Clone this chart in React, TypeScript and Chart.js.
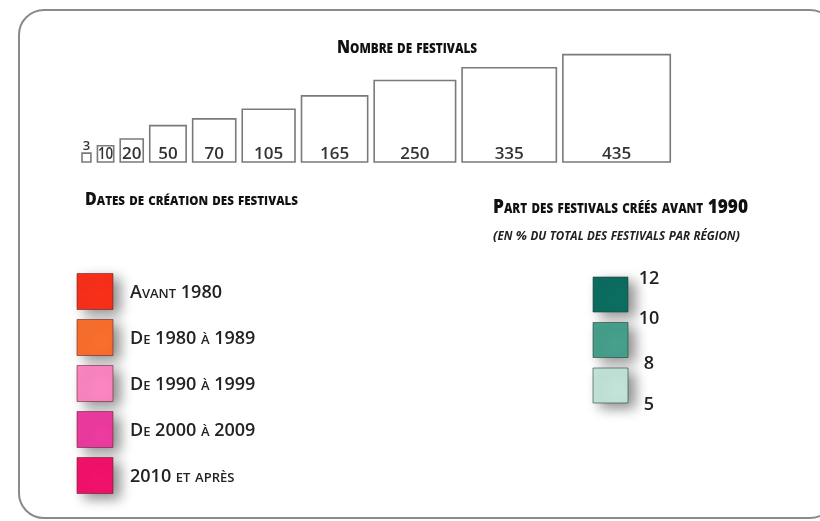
import React, { useEffect, useRef } from "react";
import { Chart, registerables } from "chart.js";

Chart.register(...registerables);

// ---- data ----
const festivalCounts = [3, 10, 20, 50, 70, 105, 165, 250, 335, 435];
const countTitle = "Nombre de festivals";

const periodTitle = "Dates de création des festivals";
const periodLabels = ["Avant 1980", "De 1980 à 1989", "De 1990 à 1999", "De 2000 à 2009", "2010 et après"];
const periodColors = ["#f8301a", "#f86e2c", "#fa85c1", "#ec3a9f", "#f1126b"];

const shareTitle = "Part des festivals créés avant 1990";
const shareSubtitle = "(en % du total des festivals par région)";
const shareBreaks = [12, 10, 8, 5];
const shareColors = ["#0c6d61", "#46a08b", "#c2e3d8"];

// ---- layout ----
const W = 820;
const H = 521;
const SQ_K = 5.15;
const SQ_GAP = 6.5;
const SQ_LEFT = 82;
const SQ_BASE = 162;
const LEG_X = 95;
const LEG_Y0 = 291.5;
const LEG_STEP = 46;
const LEG_SIDE = 36;
const SH_X = 610.5;
const SH_Y0 = 294.5;
const SH_STEP = 45.5;
const SH_SIDE = 35;
const FONT = "'Open Sans', 'Liberation Sans', sans-serif";

type CapsOpts = {
  big: number;
  small: number;
  weight: string;
  style?: string;
  color: string;
  align: "left" | "center";
  width?: number;
  sx?: number;
};

function drawCaps(ctx: CanvasRenderingContext2D, text: string, x: number, y: number, o: CapsOpts) {
  const runs: { t: string; size: number; w: number }[] = [];
  for (const ch of text) {
    const lower = ch !== ch.toUpperCase();
    const size = lower ? o.small : o.big;
    const c = lower ? ch.toUpperCase() : ch;
    const last = runs[runs.length - 1];
    if (last && last.size === size) last.t += c;
    else runs.push({ t: c, size, w: 0 });
  }
  const fontOf = (s: number) => `${o.style || "normal"} ${o.weight} ${s}px ${FONT}`;
  let total = 0;
  for (const r of runs) {
    ctx.font = fontOf(r.size);
    r.w = ctx.measureText(r.t).width;
    total += r.w;
  }
  const sx = o.width ? o.width / total : o.sx ?? 1;
  const start = o.align === "center" ? x - (total * sx) / 2 : x;
  ctx.save();
  ctx.translate(start, y);
  ctx.scale(sx, 1);
  ctx.fillStyle = o.color;
  ctx.textAlign = "left";
  ctx.textBaseline = "alphabetic";
  let cx = 0;
  for (const r of runs) {
    ctx.font = fontOf(r.size);
    ctx.fillText(r.t, cx, 0);
    cx += r.w;
  }
  ctx.restore();
}

// square positions derived from the counts (side proportional to sqrt)
const countSides = festivalCounts.map((v) => SQ_K * Math.sqrt(v));
const countPoints: { x: number; y: number }[] = [];
{
  let left = SQ_LEFT;
  countSides.forEach((s) => {
    countPoints.push({ x: left + s / 2, y: SQ_BASE - s / 2 });
    left += s + SQ_GAP;
  });
}

const shadowPlugin = {
  id: "squareShadow",
  beforeDatasetDraw(chart: any, args: any) {
    const ds = chart.data.datasets[args.index];
    if (!ds.shadow) return;
    const ctx = chart.ctx;
    ctx.save();
    ctx.shadowColor = "rgba(0,0,0,0.45)";
    ctx.shadowBlur = 13;
    ctx.shadowOffsetX = 7;
    ctx.shadowOffsetY = 5;
  },
  afterDatasetDraw(chart: any, args: any) {
    const ds = chart.data.datasets[args.index];
    if (!ds.shadow) return;
    chart.ctx.restore();
  },
};

const textPlugin = {
  id: "legendTexts",
  afterDatasetsDraw(chart: any) {
    const ctx: CanvasRenderingContext2D = chart.ctx;

    // titles
    drawCaps(ctx, countTitle, 407, 53, { big: 18, small: 13.5, weight: "800", color: "#111", align: "center", width: 140 });
    drawCaps(ctx, periodTitle, 85, 205, { big: 18, small: 13, weight: "800", color: "#111", align: "left", width: 213 });
    drawCaps(ctx, shareTitle, 493, 213, { big: 20, small: 13.5, weight: "800", color: "#111", align: "left", width: 255 });
    drawCaps(ctx, shareSubtitle, 493, 240, { big: 13, small: 11.5, weight: "bold", style: "italic", color: "#222", align: "left", width: 247 });

    // count labels
    const meta = chart.getDatasetMeta(0);
    meta.data.forEach((el: any, i: number) => {
      const side = countSides[i];
      const bottom = el.y + side / 2;
      const label = String(festivalCounts[i]);
      ctx.save();
      ctx.fillStyle = "#333";
      ctx.textAlign = "center";
      ctx.textBaseline = "alphabetic";
      if (side < 12) {
        ctx.font = `600 13px ${FONT}`;
        ctx.fillText(label, el.x, el.y - side / 2 - 3);
      } else {
        const fs = Math.min(17, side);
        ctx.font = `600 ${fs}px ${FONT}`;
        const w = ctx.measureText(label).width;
        const sx = Math.min(1, (side - 1) / w);
        ctx.translate(el.x, bottom - 3.5);
        ctx.scale(sx, 1);
        ctx.fillText(label, 0, 0);
      }
      ctx.restore();
    });

    // period labels
    const pm = chart.getDatasetMeta(1);
    pm.data.forEach((el: any, i: number) => {
      drawCaps(ctx, periodLabels[i], 130, el.y + 6.5, { big: 18, small: 13, weight: "600", color: "#222", align: "left" });
    });

    // share labels at class boundaries
    const sm = chart.getDatasetMeta(2);
    const els = sm.data;
    const half = SH_SIDE / 2;
    const bounds = [
      els[0].y - half,
      (els[0].y + half + els[1].y - half) / 2,
      (els[1].y + half + els[2].y - half) / 2,
      els[2].y + half,
    ];
    shareBreaks.forEach((b, i) => {
      ctx.save();
      ctx.font = `600 18px ${FONT}`;
      ctx.fillStyle = "#222";
      ctx.textAlign = "center";
      ctx.textBaseline = "alphabetic";
      ctx.fillText(String(b), els[0].x + 38.5, bounds[i] + 6.5);
      ctx.restore();
    });
  },
};

export default function App() {
  const ref = useRef<HTMLCanvasElement>(null);
  useEffect(() => {
    const chart = new Chart(ref.current as HTMLCanvasElement, {
      type: "scatter",
      data: {
        datasets: [
          {
            label: countTitle,
            data: countPoints,
            pointStyle: "rect",
            pointRadius: countSides.map((s) => s / Math.SQRT2),
            pointBackgroundColor: "rgba(255,255,255,0)",
            pointBorderColor: "#7a7a7a",
            pointBorderWidth: 1.6,
          } as any,
          {
            label: periodTitle,
            data: periodLabels.map((_, i) => ({ x: LEG_X, y: LEG_Y0 + i * LEG_STEP })),
            pointStyle: "rect",
            pointRadius: LEG_SIDE / Math.SQRT2,
            pointBackgroundColor: periodColors,
            pointBorderColor: "rgba(90,30,30,0.55)",
            pointBorderWidth: 1,
            shadow: true,
          } as any,
          {
            label: shareTitle,
            data: shareColors.map((_, i) => ({ x: SH_X, y: SH_Y0 + i * SH_STEP })),
            pointStyle: "rect",
            pointRadius: SH_SIDE / Math.SQRT2,
            pointBackgroundColor: shareColors,
            pointBorderColor: "rgba(40,60,55,0.6)",
            pointBorderWidth: 1,
            shadow: true,
          } as any,
        ],
      },
      options: {
        animation: false,
        responsive: false,
        devicePixelRatio: 1,
        events: [],
        layout: { padding: 0, autoPadding: false },
        plugins: { legend: { display: false }, tooltip: { enabled: false }, title: { display: false } },
        scales: {
          x: { type: "linear", min: 0, max: W, display: false },
          y: { type: "linear", min: 0, max: H, reverse: true, display: false },
        },
      },
      plugins: [shadowPlugin, textPlugin],
    });
    return () => chart.destroy();
  }, []);

  return (
    <div style={{ position: "absolute", left: 0, top: 0, width: W, height: H, overflow: "hidden", background: "#fff" }}>
      <div
        style={{
          position: "absolute",
          left: 18,
          top: 9,
          width: 818,
          height: 510,
          border: "2px solid #8a8a8a",
          borderRadius: 26,
          boxSizing: "border-box",
        }}
      />
      <canvas ref={ref} width={W} height={H} style={{ position: "absolute", left: 0, top: 0, width: W, height: H }} />
    </div>
  );
}
